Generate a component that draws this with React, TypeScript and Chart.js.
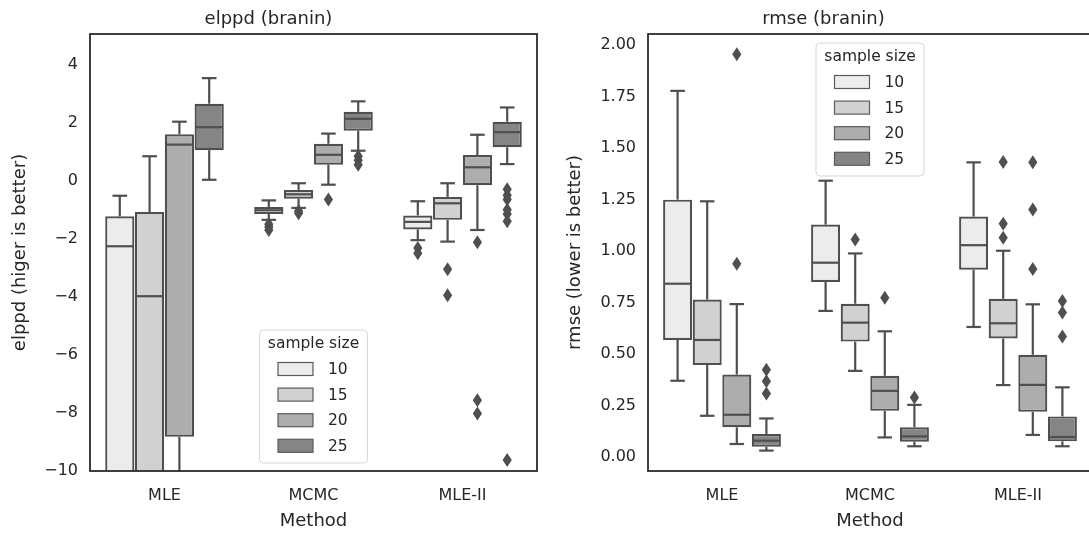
import { useEffect, useRef } from "react";
import { Chart, registerables } from "chart.js";

Chart.register(...registerables);

// ---------- data ----------
const methods = ["MLE", "MCMC", "MLE-II"];
const sampleSizes = ["10", "15", "20", "25"];

const elppdTicks = [4, 2, 0, -2, -4, -6, -8, -10];
const rmseTicks = [2, 1.75, 1.5, 1.25, 1, 0.75, 0.5, 0.25, 0];

// elppd statistics, indexed [sample size][method]
const elppdLow = [
  [-20, -1.35, -2.05],
  [-22, -0.94, -2.1],
  [-18, -0.14, -1.7],
  [0.03, 1.03, 0.57],
];
const elppdQ1 = [
  [-13, -1.15, -1.68],
  [-15, -0.62, -1.35],
  [-8.82, 0.55, -0.16],
  [1.05, 1.72, 1.15],
];
const elppdMedian = [
  [-2.26, -1.02, -1.42],
  [-3.98, -0.47, -0.78],
  [1.24, 0.89, 0.46],
  [1.84, 2.13, 1.67],
];
const elppdQ3 = [
  [-1.23, -0.91, -1.2],
  [-1.08, -0.32, -0.56],
  [1.6, 1.27, 0.88],
  [2.65, 2.37, 2.03],
];
const elppdHigh = [
  [-0.52, -0.68, -0.71],
  [0.84, -0.09, -0.09],
  [2.03, 1.62, 1.58],
  [3.53, 2.73, 2.52],
];
const elppdOutliers = [
  [[], [-1.5, -1.6, -1.7], [-2.32, -2.5]],
  [[], [-1.05, -1.12], [-3.05, -3.95]],
  [[], [-0.65], [-2.12, -7.56, -8.02]],
  [[], [0.84, 0.7, 0.55], [-0.3, -0.5, -0.65, -1.0, -1.15, -1.4, -9.62]],
];

// rmse statistics, indexed [sample size][method]
const rmseLow = [
  [0.37, 0.709, 0.631],
  [0.2, 0.418, 0.349],
  [0.063, 0.095, 0.107],
  [0.031, 0.052, 0.052],
];
const rmseQ1 = [
  [0.568, 0.849, 0.909],
  [0.446, 0.56, 0.575],
  [0.144, 0.224, 0.219],
  [0.05, 0.074, 0.076],
];
const rmseMedian = [
  [0.841, 0.943, 1.028],
  [0.568, 0.652, 0.649],
  [0.205, 0.321, 0.35],
  [0.079, 0.1, 0.097],
];
const rmseQ3 = [
  [1.249, 1.128, 1.167],
  [0.764, 0.744, 0.768],
  [0.4, 0.394, 0.496],
  [0.111, 0.144, 0.197],
];
const rmseHigh = [
  [1.777, 1.341, 1.43],
  [1.241, 0.988, 1.001],
  [0.742, 0.61, 0.741],
  [0.187, 0.253, 0.338],
];
const rmseOutliers = [
  [[], [], []],
  [[], [1.056], [1.432, 1.132, 1.064]],
  [[1.955, 0.938], [0.773], [1.43, 1.201, 0.913]],
  [[0.423, 0.367, 0.308], [0.289], [0.757, 0.701, 0.585]],
];

// ---------- styling ----------
const FONT = "'DejaVu Sans', 'Liberation Sans', sans-serif";
const TEXT = "#262626";
const LINE = "#4f4f4f";
const FRAME = "#2b2b2b";
const boxFills = ["#ececec", "#d1d1d1", "#adadad", "#858585"];

const minusFmt = (v: number) => (v < 0 ? "\u2212" + Math.abs(v) : String(v));
const fixedFmt = (v: number) => v.toFixed(2);

// Whiskers, caps, medians and outlier diamonds on top of the floating-bar boxes
const boxPartsPlugin = {
  id: "boxParts",
  afterDatasetsDraw(chart: any, _args: any, opts: any) {
    const { ctx, chartArea } = chart;
    const ys = chart.scales.y;
    const py = (v: number) => ys.getPixelForValue(v);
    ctx.save();
    ctx.beginPath();
    ctx.rect(chartArea.left, chartArea.top, chartArea.right - chartArea.left, chartArea.bottom - chartArea.top);
    ctx.clip();
    ctx.strokeStyle = LINE;
    ctx.fillStyle = LINE;
    ctx.lineWidth = 2.2;
    const seg = (x1: number, y1: number, x2: number, y2: number) => {
      ctx.beginPath();
      ctx.moveTo(x1, y1);
      ctx.lineTo(x2, y2);
      ctx.stroke();
    };
    sampleSizes.forEach((_, i) => {
      const meta = chart.getDatasetMeta(i);
      meta.data.forEach((bar: any, j: number) => {
        const { x, width } = bar.getProps(["x", "width"], true);
        const half = width / 2;
        const cap = width / 4;
        const lo = py(opts.low[i][j]);
        const q1 = py(opts.q1[i][j]);
        const med = py(opts.median[i][j]);
        const q3 = py(opts.q3[i][j]);
        const hi = py(opts.high[i][j]);
        seg(x, q3, x, hi);
        seg(x, q1, x, lo);
        seg(x - cap, hi, x + cap, hi);
        seg(x - cap, lo, x + cap, lo);
        seg(x - half + 1, med, x + half - 1, med);
        opts.outliers[i][j].forEach((v: number) => {
          const yy = py(v);
          ctx.beginPath();
          ctx.moveTo(x, yy - 7);
          ctx.lineTo(x + 4.6, yy);
          ctx.lineTo(x, yy + 7);
          ctx.lineTo(x - 4.6, yy);
          ctx.closePath();
          ctx.fill();
        });
      });
    });
    ctx.restore();
  },
};

// Legend box inside the axes, plus the axes frame
const legendFramePlugin = {
  id: "legendFrame",
  afterDraw(chart: any, _args: any, opts: any) {
    const { ctx, chartArea } = chart;
    const w = 108;
    const h = 133;
    const cx = (chartArea.left + chartArea.right) / 2;
    const left = cx - w / 2;
    const top = opts.anchor === "top" ? chartArea.top + 9 : chartArea.bottom - 8 - h;
    ctx.save();
    // box
    const r = 4;
    ctx.beginPath();
    ctx.moveTo(left + r, top);
    ctx.lineTo(left + w - r, top);
    ctx.arcTo(left + w, top, left + w, top + r, r);
    ctx.lineTo(left + w, top + h - r);
    ctx.arcTo(left + w, top + h, left + w - r, top + h, r);
    ctx.lineTo(left + r, top + h);
    ctx.arcTo(left, top + h, left, top + h - r, r);
    ctx.lineTo(left, top + r);
    ctx.arcTo(left, top, left + r, top, r);
    ctx.closePath();
    ctx.fillStyle = "rgba(255,255,255,0.85)";
    ctx.fill();
    ctx.strokeStyle = "#d6d6d6";
    ctx.lineWidth = 1;
    ctx.stroke();
    // title
    ctx.fillStyle = TEXT;
    ctx.font = `15.5px ${FONT}`;
    ctx.textAlign = "center";
    ctx.textBaseline = "middle";
    ctx.fillText("sample size", cx, top + 13.5);
    // entries
    ctx.textAlign = "left";
    chart.data.datasets.forEach((ds: any, i: number) => {
      const rowY = top + 39 + 25.6 * i;
      ctx.fillStyle = ds.backgroundColor;
      ctx.fillRect(left + 18.5, rowY - 6.5, 35, 13);
      ctx.strokeStyle = "#5b5b5b";
      ctx.lineWidth = 1.2;
      ctx.strokeRect(left + 18.5, rowY - 6.5, 35, 13);
      ctx.fillStyle = TEXT;
      ctx.fillText(ds.label, left + 68.5, rowY + 1);
    });
    // frame
    ctx.strokeStyle = FRAME;
    ctx.lineWidth = 1.8;
    ctx.strokeRect(chartArea.left, chartArea.top, chartArea.right - chartArea.left, chartArea.bottom - chartArea.top);
    ctx.restore();
  },
};

type PanelProps = {
  title: string;
  yTitle: string;
  yMin: number;
  yMax: number;
  ticks: number[];
  fmt: (v: number) => string;
  axisWidth: number;
  anchor: "top" | "bottom";
  low: number[][];
  q1: number[][];
  median: number[][];
  q3: number[][];
  high: number[][];
  outliers: number[][][];
  left: number;
  width: number;
};

function BoxPanel(p: PanelProps) {
  const ref = useRef<HTMLCanvasElement | null>(null);

  useEffect(() => {
    if (!ref.current) return;
    const chart = new Chart(ref.current, {
      type: "bar",
      data: {
        labels: methods,
        datasets: sampleSizes.map((size, i) => ({
          label: size,
          data: methods.map((_, j) => [p.q1[i][j], p.q3[i][j]]),
          backgroundColor: boxFills[i],
          borderColor: LINE,
          borderWidth: 2.2,
          borderSkipped: false,
          categoryPercentage: 0.8,
          barPercentage: 0.98,
          clip: 0,
        })) as any,
      },
      options: {
        responsive: false,
        animation: false,
        events: [],
        layout: { padding: { left: 0, right: 8, top: 0, bottom: 0 } },
        scales: {
          x: {
            type: "category",
            grid: { display: false, drawTicks: false },
            border: { display: false },
            ticks: { color: TEXT, font: { family: FONT, size: 16 }, padding: 15 },
            title: {
              display: true,
              text: "Method",
              color: TEXT,
              font: { family: FONT, size: 18 },
              padding: { top: 0, bottom: 2.5 },
            },
            afterFit: (s: any) => {
              s.height = 64;
            },
          },
          y: {
            type: "linear",
            min: p.yMin,
            max: p.yMax,
            grid: { display: false, drawTicks: false },
            border: { display: false },
            afterBuildTicks: (s: any) => {
              s.ticks = p.ticks.map((value) => ({ value }));
            },
            ticks: {
              color: TEXT,
              font: { family: FONT, size: 16 },
              padding: 12,
              callback: (v: any) => p.fmt(Number(v)),
            },
            title: {
              display: true,
              text: p.yTitle,
              color: TEXT,
              font: { family: FONT, size: 18 },
              padding: { top: 10, bottom: 0 },
            },
            afterFit: (s: any) => {
              s.width = p.axisWidth;
            },
          },
        },
        plugins: {
          legend: { display: false },
          tooltip: { enabled: false },
          title: {
            display: true,
            text: p.title,
            color: TEXT,
            font: { family: FONT, size: 18, weight: "normal" },
            padding: { top: 9, bottom: 3.4 },
          },
          boxParts: {
            low: p.low,
            q1: p.q1,
            median: p.median,
            q3: p.q3,
            high: p.high,
            outliers: p.outliers,
          },
          legendFrame: { anchor: p.anchor },
        } as any,
      },
      plugins: [boxPartsPlugin, legendFramePlugin],
    });
    return () => chart.destroy();
  }, []);

  return (
    <canvas
      ref={ref}
      width={p.width}
      height={535}
      style={{ position: "absolute", left: p.left, top: 0, width: p.width, height: 535 }}
    />
  );
}

export default function App() {
  return (
    <div
      style={{
        position: "absolute",
        left: 0,
        top: 0,
        width: 1089,
        height: 535,
        overflow: "hidden",
        background: "#ffffff",
      }}
    >
      <BoxPanel
        title="elppd (branin)"
        yTitle="elppd (higer is better)"
        yMin={-10}
        yMax={5.05}
        ticks={elppdTicks}
        fmt={minusFmt}
        axisWidth={90}
        anchor="bottom"
        low={elppdLow}
        q1={elppdQ1}
        median={elppdMedian}
        q3={elppdQ3}
        high={elppdHigh}
        outliers={elppdOutliers}
        left={0}
        width={545}
      />
      <BoxPanel
        title="rmse (branin)"
        yTitle="rmse (lower is better)"
        yMin={-0.068}
        yMax={2.053}
        ticks={rmseTicks}
        fmt={fixedFmt}
        axisWidth={93}
        anchor="top"
        low={rmseLow}
        q1={rmseQ1}
        median={rmseMedian}
        q3={rmseQ3}
        high={rmseHigh}
        outliers={rmseOutliers}
        left={555}
        width={545}
      />
    </div>
  );
}
